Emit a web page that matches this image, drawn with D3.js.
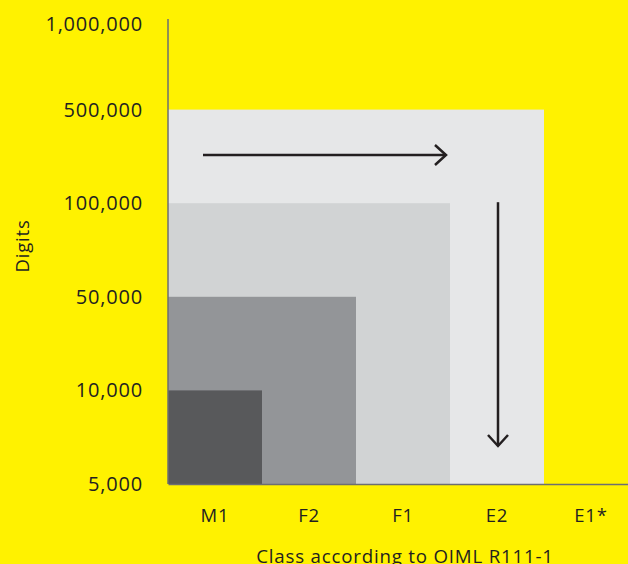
<!DOCTYPE html>
<html>
<head>
<meta charset="utf-8">
<script src="https://d3js.org/d3.v7.min.js"></script>
<style>
  html, body { margin: 0; padding: 0; background: #fff200; }
  text { font-family: "Open Sans", "Noto Sans", sans-serif; fill: #231f20; letter-spacing: 0.8px; }
</style>
</head>
<body>
<div id="canvas"></div>
<script>
var width = 628;
var height = 564;

// data
var classes = ["M1", "F2", "F1", "E2", "E1*"];
var digitTicks = [5000, 10000, 50000, 100000, 500000, 1000000];
// max digits reached by each class (nested areas, largest drawn first)
var classMax = [10000, 50000, 100000, 500000];
var fills = ["#58595b", "#939598", "#d1d3d4", "#e6e7e8"];

var svg = d3.select("#canvas").append("svg")
    .attr("width", width)
    .attr("height", height);

svg.append("rect").attr("width", width).attr("height", height).attr("fill", "#fff200");

var x = d3.scaleBand().domain(classes).range([168, 638]).padding(0);
var y = d3.scalePoint().domain(digitTicks).range([484, 16]);

// nested rectangles, widest first
var areas = classMax.map(function(v, i) { return { cls: classes[i], v: v, fill: fills[i] }; });
svg.selectAll("rect.area")
    .data(areas.slice().reverse())
    .enter().append("rect")
    .attr("class", "area")
    .attr("x", x.range()[0])
    .attr("y", d => y(d.v))
    .attr("width", d => x(d.cls) + x.bandwidth() - x.range()[0])
    .attr("height", d => y(5000) - y(d.v))
    .attr("fill", d => d.fill);

// axes
var yAxis = svg.append("g")
    .attr("transform", "translate(168,0)")
    .call(d3.axisLeft(y).tickSize(0).tickPadding(25).tickFormat(d3.format(",")));
yAxis.select(".domain").attr("stroke", "#6d6e71").attr("stroke-width", 1.5)
    .attr("d", "M0,19V484");
yAxis.selectAll("text").style("font-size", "20px").attr("fill", "#231f20");
yAxis.selectAll(".tick").filter(d => d === 1000000).attr("transform", "translate(0,25)");

var xAxis = svg.append("g")
    .attr("transform", "translate(0,484)")
    .call(d3.axisBottom(x).tickSize(0).tickPadding(25));
xAxis.select(".domain").attr("stroke", "#6d6e71").attr("stroke-width", 1.5);
xAxis.selectAll("text").style("font-size", "18.5px").attr("fill", "#231f20");

// axis titles
svg.append("text")
    .attr("transform", "translate(29," + ((y(50000) + y(100000)) / 2 - 4) + ") rotate(-90)")
    .attr("text-anchor", "middle")
    .style("font-size", "18.5px")
    .text("Digits");

svg.append("text")
    .attr("x", 405)
    .attr("y", 563)
    .attr("text-anchor", "middle")
    .style("font-size", "18.7px")
    .text("Class according to OIML R111-1");

// arrows
var arrowColor = "#231f20";
var hy = 155;
var hx0 = x("M1") + 35, hx1 = x("F1") + x.bandwidth() - 4;
svg.append("line").attr("x1", hx0).attr("x2", hx1).attr("y1", hy).attr("y2", hy)
    .attr("stroke", arrowColor).attr("stroke-width", 2.5);
svg.append("path")
    .attr("d", "M" + (hx1 - 11) + "," + (hy - 10) + "L" + hx1 + "," + hy + "L" + (hx1 - 11) + "," + (hy + 10))
    .attr("fill", "none").attr("stroke", arrowColor).attr("stroke-width", 2.5);

var vx = x("E2") + x.bandwidth() / 2 + 1;
var vy0 = y(100000) - 1, vy1 = y(5000) - 38;
svg.append("line").attr("x1", vx).attr("x2", vx).attr("y1", vy0).attr("y2", vy1)
    .attr("stroke", arrowColor).attr("stroke-width", 2.5);
svg.append("path")
    .attr("d", "M" + (vx - 10) + "," + (vy1 - 11) + "L" + vx + "," + vy1 + "L" + (vx + 10) + "," + (vy1 - 11))
    .attr("fill", "none").attr("stroke", arrowColor).attr("stroke-width", 2.5);
</script>
</body>
</html>
